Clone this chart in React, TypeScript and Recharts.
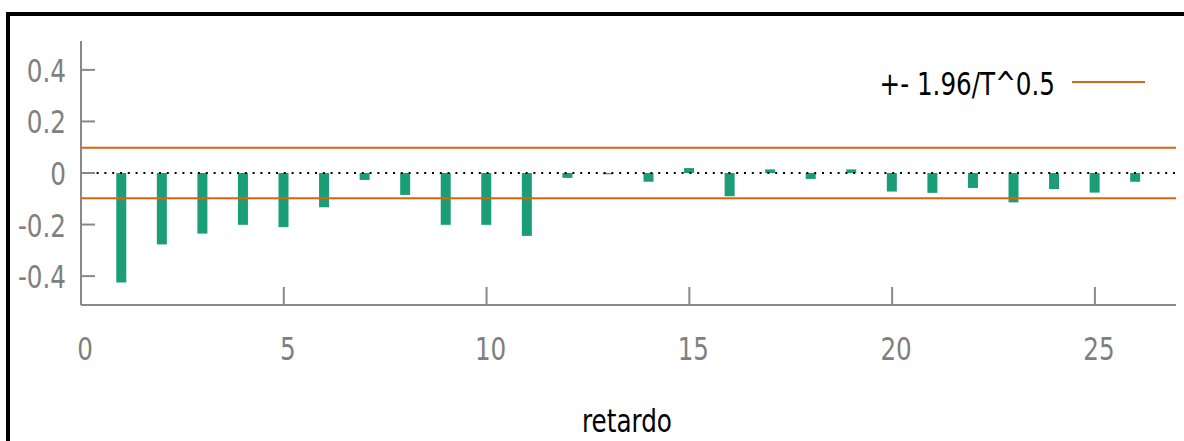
import React from 'react';
import { ComposedChart, Bar, XAxis, YAxis, ReferenceLine } from 'recharts';

// autocorrelation by lag
const lags = [1, 2, 3, 4, 5, 6, 7, 8, 9, 10, 11, 12, 13, 14, 15, 16, 17, 18, 19, 20, 21, 22, 23, 24, 25, 26];
const acf = [
  -0.425, -0.277, -0.235, -0.201, -0.21, -0.133, -0.027, -0.085, -0.201, -0.201, -0.244, -0.019, -0.005,
  -0.034, 0.019, -0.09, 0.014, -0.023, 0.014, -0.072, -0.077, -0.058, -0.114, -0.062, -0.076, -0.034,
];
const band = 0.098; // +- 1.96/T^0.5
const xTicks = [0, 5, 10, 15, 20, 25];
const yTicks = [-0.4, -0.2, 0, 0.2, 0.4];
const legendLabel = '+- 1.96/T^0.5';
const xLabel = 'retardo';

const data = lags.map((lag, i) => ({ lag, acf: acf[i] }));

const FONT = '"DejaVu Sans Condensed", "Liberation Sans Narrow", "DejaVu Sans", sans-serif';
const AXIS = '#888888';
const GREEN = '#1b9e77';
const ORANGE = '#e0620f';
const SIZE = 31.5;
const SQUEEZE = 0.87; // reference font is narrow

const Txt = ({ x, y, anchor, fill, children }: any) => (
  <text
    transform={`translate(${x},${y}) scale(${SQUEEZE},1)`}
    textAnchor={anchor}
    fill={fill}
    fontSize={SIZE}
    fontFamily={FONT}
  >
    {children}
  </text>
);

const YTick = ({ x, y, payload }: any) => (
  <g>
    <line x1={x} x2={x + 14} y1={y} y2={y} stroke={AXIS} strokeWidth={2} />
    <Txt x={x - 15} y={y + 12} anchor="end" fill="#7f7f7f">
      {String(payload.value)}
    </Txt>
  </g>
);

const XTick = ({ x, y, payload }: any) => (
  <g>
    <line x1={x} x2={x} y1={y} y2={y - 18} stroke={AXIS} strokeWidth={2} />
    <Txt x={x + 4} y={y + 55} anchor="middle" fill="#7f7f7f">
      {String(payload.value)}
    </Txt>
  </g>
);

export default function App() {
  return (
    <div style={{ position: 'absolute', left: 0, top: 0, width: 1184, height: 441, overflow: 'hidden', background: '#fff' }}>
      <div
        style={{
          position: 'absolute',
          left: 6,
          top: 12,
          width: 1300,
          height: 600,
          border: '4px solid #000',
          boxSizing: 'border-box',
        }}
      />
      <div style={{ position: 'absolute', left: 0, top: 0 }}>
        <ComposedChart width={1184} height={441} data={data} margin={{ top: 41, right: 8, bottom: 0, left: 0 }}>
          <XAxis
            dataKey="lag"
            type="number"
            domain={[0, 27]}
            ticks={xTicks}
            tickSize={0}
            tickMargin={0}
            tick={<XTick />}
            stroke={AXIS}
            strokeWidth={2}
            height={136}
            allowDataOverflow
          />
          <YAxis
            type="number"
            domain={[-0.512, 0.512]}
            ticks={yTicks}
            tickSize={0}
            tickMargin={0}
            tick={<YTick />}
            stroke={AXIS}
            strokeWidth={2}
            width={81}
            allowDataOverflow
          />
          <Bar dataKey="acf" fill={GREEN} barSize={10} isAnimationActive={false} />
          <ReferenceLine y={0} stroke="#000" strokeWidth={2} strokeDasharray="2 5.8" />
          <ReferenceLine y={band} stroke={ORANGE} strokeWidth={2} />
          <ReferenceLine y={-band} stroke={ORANGE} strokeWidth={2} />
        </ComposedChart>
      </div>
      <svg width={1184} height={441} style={{ position: 'absolute', left: 0, top: 0, pointerEvents: 'none' }}>
        <Txt x={1055} y={95} anchor="end" fill="#000">
          {legendLabel}
        </Txt>
        <line x1={1072} x2={1145} y1={82} y2={82} stroke={ORANGE} strokeWidth={2} />
        <Txt x={627} y={432} anchor="middle" fill="#000">
          {xLabel}
        </Txt>
      </svg>
    </div>
  );
}
